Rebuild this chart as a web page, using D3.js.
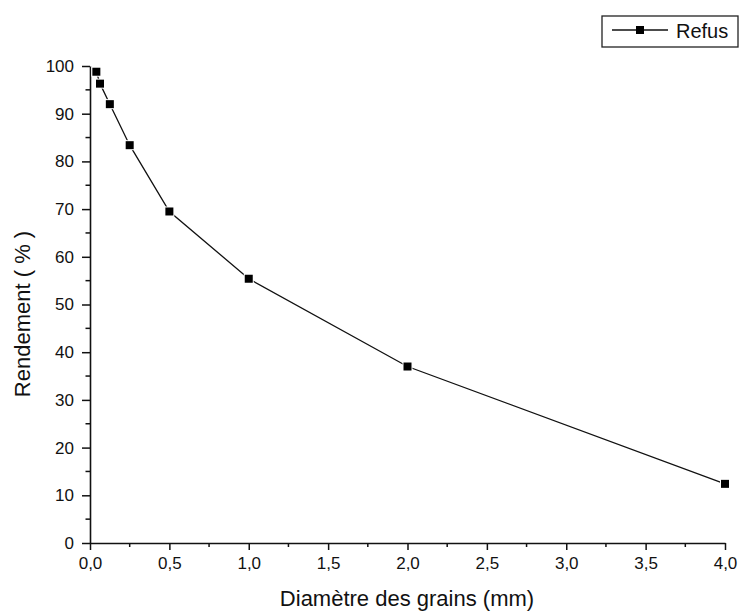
<!DOCTYPE html>
<html>
<head>
<meta charset="utf-8">
<script src="https://cdn.jsdelivr.net/npm/d3@7"></script>
<style>
  body { margin: 0; background: #fff; }
  svg text { font-family: "Liberation Sans", Arial, sans-serif; fill: #111; }
</style>
</head>
<body>
<div id="chart"></div>
<script>
// données
const diametres = [0.04, 0.063, 0.125, 0.25, 0.5, 1.0, 2.0, 4.0];
const rendement = [98.8, 96.3, 92.0, 83.4, 69.5, 55.4, 37.0, 12.4];
const xTicks = [0, 0.5, 1.0, 1.5, 2.0, 2.5, 3.0, 3.5, 4.0];
const yTicks = [0, 10, 20, 30, 40, 50, 60, 70, 80, 90, 100];
const serie = "Refus";

const W = 741, H = 612;
const margin = {top: 66, right: 16, bottom: 69, left: 90};
const width = W - margin.left - margin.right,
      height = H - margin.top - margin.bottom;

const svg = d3.select("#chart").append("svg")
    .attr("width", W)
    .attr("height", H);

const g = svg.append("g")
    .attr("transform", "translate(" + margin.left + "," + margin.top + ")");

const x = d3.scaleLinear().domain([0, 4]).range([0, width]);
const y = d3.scaleLinear().domain([0, 100]).range([height, 0]);

const fmt = d => d3.format(".1f")(d).replace(".", ",");

// axe X
const ax = g.append("g")
    .attr("transform", "translate(0," + height + ")")
    .call(d3.axisBottom(x).tickValues(xTicks).tickFormat(fmt).tickSize(7).tickSizeOuter(0));
ax.append("g").selectAll("line")
    .data(d3.range(0.25, 4, 0.5))
    .enter().append("line")
    .attr("x1", d => x(d)).attr("x2", d => x(d))
    .attr("y1", 0).attr("y2", 4)
    .attr("stroke", "#111").attr("stroke-width", 1.5);

// axe Y
const ay = g.append("g")
    .call(d3.axisLeft(y).tickValues(yTicks).tickSize(8).tickSizeOuter(0));
ay.append("g").selectAll("line")
    .data(d3.range(5, 100, 10))
    .enter().append("line")
    .attr("y1", d => y(d)).attr("y2", d => y(d))
    .attr("x1", 0).attr("x2", -4.5)
    .attr("stroke", "#111").attr("stroke-width", 1.5);

[ax, ay].forEach(a => {
    a.select(".domain").attr("stroke", "#111").attr("stroke-width", 1.6);
    a.selectAll(".tick line").attr("stroke", "#111").attr("stroke-width", 1.5);
    a.selectAll(".tick text").style("font-size", "17px").attr("fill", "#111");
});
ax.selectAll(".tick text").attr("y", 11).attr("dy", "0.9em");
ay.selectAll(".tick text").attr("x", -16);

// courbe
g.append("path")
    .datum(diametres.map((d, i) => [d, rendement[i]]))
    .attr("fill", "none")
    .attr("stroke", "#111")
    .attr("stroke-width", 1.3)
    .attr("d", d3.line().x(d => x(d[0])).y(d => y(d[1])));

g.selectAll("rect.pt")
    .data(diametres)
    .enter().append("rect")
    .attr("class", "pt")
    .attr("x", d => x(d) - 4)
    .attr("y", (d, i) => y(rendement[i]) - 4)
    .attr("width", 8).attr("height", 8)
    .attr("fill", "#000")
    .attr("stroke", "#fff")
    .attr("stroke-width", 2)
    .attr("paint-order", "stroke");

// titres des axes
svg.append("text")
    .attr("text-anchor", "middle")
    .attr("x", 407)
    .attr("y", 606)
    .style("font-size", "22px")
    .text("Diamètre des grains (mm)");

svg.append("text")
    .attr("text-anchor", "middle")
    .attr("transform", "translate(30,314) rotate(-90)")
    .style("font-size", "22px")
    .text("Rendement ( % )");

// légende
const leg = svg.append("g");
leg.append("rect")
    .attr("x", 602).attr("y", 16)
    .attr("width", 136).attr("height", 31)
    .attr("fill", "#fff").attr("stroke", "#222").attr("stroke-width", 1.3);
leg.append("line")
    .attr("x1", 612).attr("x2", 668)
    .attr("y1", 30).attr("y2", 30)
    .attr("stroke", "#111").attr("stroke-width", 1.4);
leg.append("rect")
    .attr("x", 636).attr("y", 26)
    .attr("width", 8).attr("height", 8)
    .attr("fill", "#000");
leg.append("text")
    .attr("x", 676).attr("y", 38)
    .style("font-size", "20px")
    .text(serie);
</script>
</body>
</html>
